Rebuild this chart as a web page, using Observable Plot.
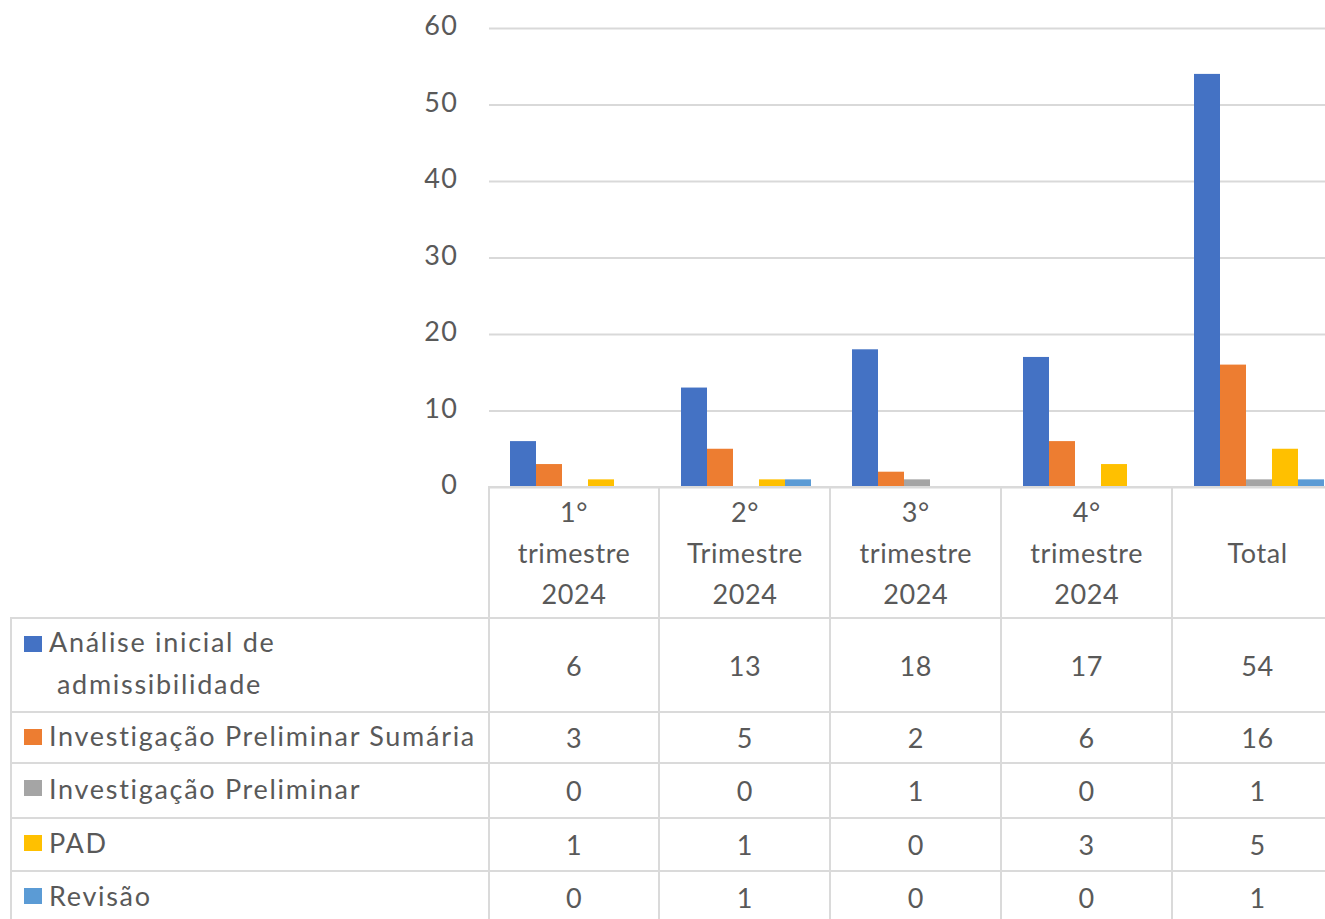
<!DOCTYPE html>
<html>
<head>
<meta charset="utf-8">
<script src="https://cdn.jsdelivr.net/npm/d3@7"></script>
<script src="https://cdn.jsdelivr.net/npm/@observablehq/plot@0.6"></script>
<style>
  html, body { margin: 0; padding: 0; background: #fff; overflow: hidden; }
  #wrap { position: relative; width: 1344px; height: 919px; overflow: hidden; font-family: Lato, "Open Sans", sans-serif; color: #595959; }
  #tbl { position: absolute; left: 10px; top: 486px; border-collapse: collapse; table-layout: fixed; font-size: 27px; color: #595959; letter-spacing: 0.6px; }
  #tbl td { border: 2px solid #dadada; padding: 0; text-align: center; vertical-align: middle; }
  #tbl td.blank { border-top: none; border-left: none; }
  #tbl td.head { white-space: pre-line; line-height: 41px; }
  #tbl td.label { text-align: left; position: relative; letter-spacing: 1.7px; }
  .lab { position: relative; padding-left: 45px; text-indent: -8px; line-height: 42px; margin-top: -4px; }
  .sw { position: absolute; left: 12px; width: 18px; height: 16px; }
</style>
</head>
<body>
<div id="wrap">
  <div id="chart"></div>
  <table id="tbl"></table>
</div>
<script>
const categories = ["1°\ntrimestre\n2024", "2°\nTrimestre\n2024", "3°\ntrimestre\n2024", "4°\ntrimestre\n2024", "Total"];
const series = ["Análise inicial de admissibilidade", "Investigação Preliminar Sumária", "Investigação Preliminar", "PAD", "Revisão"];
const analiseInicial = [6, 13, 18, 17, 54];
const investigacaoSumaria = [3, 5, 2, 6, 16];
const investigacaoPreliminar = [0, 0, 1, 0, 1];
const pad = [1, 1, 0, 3, 5];
const revisao = [0, 1, 0, 0, 1];
const colors = ["#4472C4", "#ED7D31", "#A5A5A5", "#FFC000", "#5B9BD5"];
const yTicks = [0, 10, 20, 30, 40, 50, 60];

const valuesBySeries = [analiseInicial, investigacaoSumaria, investigacaoPreliminar, pad, revisao];
const data = [];
series.forEach((s, i) => categories.forEach((c, j) => data.push({category: c, series: s, value: valuesBySeries[i][j]})));

const chart = Plot.plot({
  width: 1344,
  height: 490,
  marginLeft: 488,
  marginRight: 0,
  marginTop: 28,
  marginBottom: 3,
  style: {fontFamily: "Lato, 'Open Sans', sans-serif", fontSize: "27px", color: "#595959", background: "transparent", overflow: "visible", letterSpacing: "1.5px"},
  fx: {domain: categories, padding: 0, axis: null},
  x: {domain: series, paddingInner: 0, paddingOuter: 0.667, axis: null},
  y: {domain: [0, 60], label: null},
  color: {domain: series, range: colors},
  marks: [
    Plot.gridY(yTicks, {stroke: "#d9d9d9", strokeOpacity: 1, strokeWidth: 2}),
    Plot.axisY(yTicks, {tickSize: 0, tickPadding: 31, fontSize: 27, fill: "#595959", label: null, dy: -2}),
    Plot.barY(data, {fx: "category", x: "series", y: "value", fill: "series"})
  ]
});
document.getElementById("chart").appendChild(chart);

// data table
const tbl = document.getElementById("tbl");
const colgroup = document.createElement("colgroup");
const c0 = document.createElement("col"); c0.style.width = "478px"; colgroup.appendChild(c0);
categories.forEach(() => { const c = document.createElement("col"); c.style.width = "171px"; colgroup.appendChild(c); });
tbl.appendChild(colgroup);

const rowHeights = [131, 94, 51, 55, 53, 53];
const head = document.createElement("tr");
head.style.height = rowHeights[0] + "px";
const blank = document.createElement("td"); blank.className = "blank"; head.appendChild(blank);
categories.forEach(c => { const td = document.createElement("td"); td.className = "head"; td.textContent = c; head.appendChild(td); });
tbl.appendChild(head);

series.forEach((s, i) => {
  const tr = document.createElement("tr");
  tr.style.height = rowHeights[i + 1] + "px";
  const td = document.createElement("td"); td.className = "label";
  const lab = document.createElement("div"); lab.className = "lab";
  const sw = document.createElement("span"); sw.className = "sw"; sw.style.background = colors[i];
  sw.style.top = i === 0 ? "17px" : "16px";
  const words = i === 0 ? "Análise inicial de\nadmissibilidade" : s;
  lab.style.whiteSpace = "pre-line";
  lab.textContent = words;
  td.appendChild(sw);
  td.appendChild(lab);
  tr.appendChild(td);
  valuesBySeries[i].forEach(v => { const vd = document.createElement("td"); vd.textContent = v; tr.appendChild(vd); });
  tbl.appendChild(tr);
});
</script>
</body>
</html>
